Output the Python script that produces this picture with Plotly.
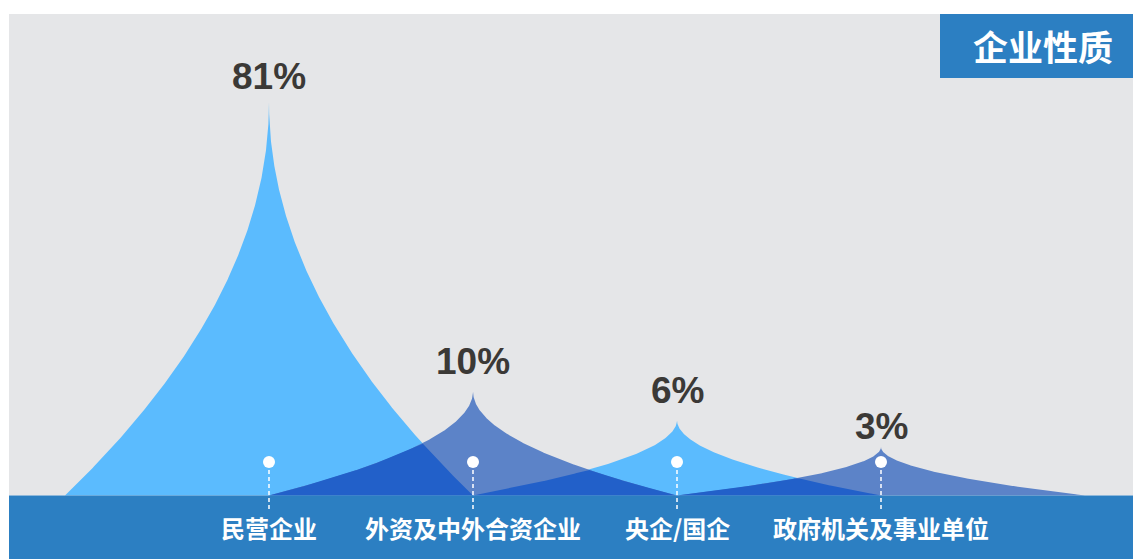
import numpy as np
import plotly.graph_objects as go

# ---- data -------------------------------------------------------------
categories = ["民营企业", "外资及中外合资企业", "央企/国企", "政府机关及事业单位"]
shares = [81, 10, 6, 3]
share_labels = ["81%", "10%", "6%", "3%"]
chart_title = "企业性质"

# ---- geometry / style ---------------------------------------------------
W, H = 1133, 559
BASE_PX = 495.5          # pixel row of the baseline
SLOT_PX = 204            # pixel width of one category slot
FIRST_PX = 269           # pixel column of the first category
GAMMA = 0.635            # power scale used for spike heights
HEIGHT_K = 24.13         # pixels per scaled unit

LIGHT = "#5bbbfe"
DARK = "#5c83c8"
OVERLAP = "#2260c9"
GREY = "#e5e6e8"
BAND = "#2c7fc2"
TEXT = "#3b3936"

LABEL_GAP = [11, 15, 15, 6]      # gap between spike tip and value text (px)
DOT_PX = 462                     # pixel row of the marker dots


def spike_height(v):
    """Height (px) of a spike for value v on the power scale."""
    return HEIGHT_K * v ** GAMMA


def spike(center, height, n=300):
    """Concave 'mountain' outline spanning one slot on each side."""
    v = np.linspace(0, 1, n)
    half = (1 - v) ** 2
    xs = np.concatenate([center - half, center + half[::-1]])
    ys = np.concatenate([v * height, (v * height)[::-1]])
    return xs, ys


def overlap(i, h_left, h_right, n=500):
    """Region covered by both spike i (right flank) and spike i+1 (left flank)."""
    xs = np.linspace(i, i + 1, n)
    f_l = h_left * (1 - np.sqrt(np.clip(xs - i, 0, 1)))
    f_r = h_right * (1 - np.sqrt(np.clip(i + 1 - xs, 0, 1)))
    top = np.minimum(f_l, f_r)
    return (np.concatenate([xs, [i + 1, i]]),
            np.concatenate([top, [0, 0]]))


def px(x):
    return x / W


def py(y):
    return 1 - y / H


heights = [spike_height(v) for v in shares]
colors = [LIGHT if k % 2 == 0 else DARK for k in range(len(shares))]

fig = go.Figure()

# light spikes first, dark spikes on top, then the darker overlap areas
order = [k for k in range(len(shares)) if k % 2 == 0] + \
        [k for k in range(len(shares)) if k % 2 == 1]
for k in order:
    xs, ys = spike(k, heights[k])
    fig.add_trace(go.Scatter(x=xs, y=ys, mode="lines", fill="toself",
                             fillcolor=colors[k], line=dict(width=0),
                             hoverinfo="skip", showlegend=False))

for k in range(len(shares) - 1):
    xs, ys = overlap(k, heights[k], heights[k + 1])
    fig.add_trace(go.Scatter(x=xs, y=ys, mode="lines", fill="toself",
                             fillcolor=OVERLAP, line=dict(width=0),
                             hoverinfo="skip", showlegend=False))

# white marker dots under each spike
fig.add_trace(go.Scatter(x=list(range(len(categories))),
                         y=[BASE_PX - DOT_PX] * len(categories),
                         mode="markers",
                         marker=dict(size=12, color="white"),
                         hoverinfo="skip", showlegend=False))

shapes = [
    # grey panel
    dict(type="rect", xref="paper", yref="paper", layer="below",
         x0=px(9), x1=1, y0=py(BASE_PX), y1=py(14),
         fillcolor=GREY, line=dict(width=0)),
    # bottom band
    dict(type="rect", xref="paper", yref="paper", layer="above",
         x0=px(9), x1=1, y0=0, y1=py(BASE_PX),
         fillcolor=BAND, line=dict(width=0)),
    # title box
    dict(type="rect", xref="paper", yref="paper", layer="above",
         x0=px(940), x1=1, y0=py(78), y1=py(14),
         fillcolor=BAND, line=dict(width=0)),
]
for k in range(len(categories)):
    shapes.append(dict(type="line", xref="x", yref="y", layer="above",
                       x0=k, x1=k, y0=BASE_PX - 470, y1=BASE_PX - 510,
                       line=dict(color="white", width=1.5, dash="4px,3px")))

annotations = [
    dict(text=f"<b>{chart_title}</b>", xref="paper", yref="paper",
         x=px(1043), y=py(46), xanchor="center", yanchor="middle",
         showarrow=False,
         font=dict(family="Noto Sans CJK SC", size=35, color="white"))
]
for k, (lab, txt) in enumerate(zip(categories, share_labels)):
    annotations.append(dict(
        text=f"<b>{txt}</b>", x=k, y=heights[k], xref="x", yref="y",
        xanchor="center", yanchor="bottom", yshift=LABEL_GAP[k] - 8,
        showarrow=False,
        font=dict(family="Liberation Sans, Arial", size=37, color=TEXT)))
    annotations.append(dict(
        text=f"<b>{lab}</b>", x=k, y=BASE_PX - 527, xref="x", yref="y",
        xanchor="center", yanchor="middle", showarrow=False,
        font=dict(family="Noto Sans CJK SC", size=24, color="white")))

fig.update_layout(
    width=W, height=H, autosize=False,
    margin=dict(l=0, r=0, t=0, b=0, pad=0),
    paper_bgcolor="white", plot_bgcolor="rgba(0,0,0,0)",
    xaxis=dict(range=[-FIRST_PX / SLOT_PX, (W - FIRST_PX) / SLOT_PX],
               visible=False, fixedrange=True),
    yaxis=dict(range=[-(H - BASE_PX), BASE_PX],
               visible=False, fixedrange=True),
    shapes=shapes, annotations=annotations,
)

fig.write_html("out.html", config={"displayModeBar": False})
